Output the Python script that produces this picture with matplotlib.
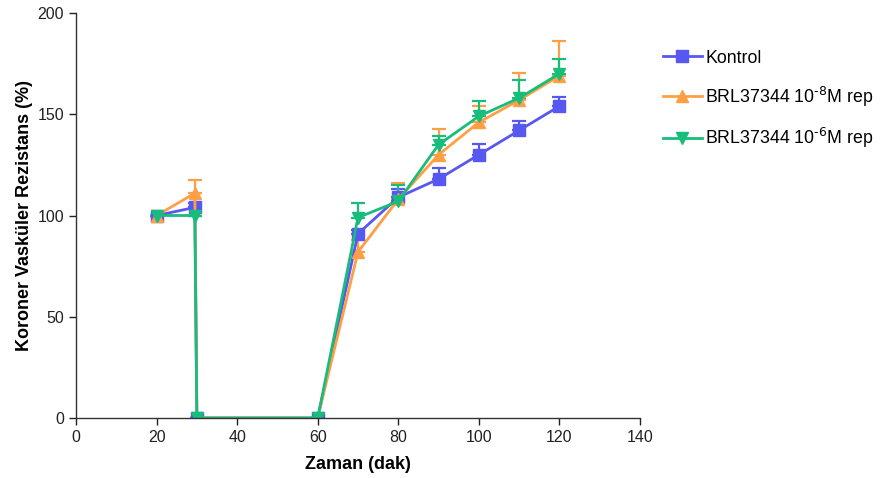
import matplotlib
matplotlib.use("Agg")
import matplotlib.pyplot as plt
import numpy as np

plt.rcParams['font.family'] = ['Liberation Sans', 'DejaVu Sans']

# time points (min)
zaman = [20, 29.5, 30, 60, 70, 80, 90, 100, 110, 120]

kontrol = [100, 104, 0, 0, 91, 109, 118, 130, 142, 154]
kontrol_sem = [0, 2, 0, 0, 2, 4, 5.5, 5.5, 4.5, 4.6]

brl_8 = [100, 111, 0, 0, 82, 108, 130, 146, 157, 169]
brl_8_sem = [0, 6.5, 0, 0, 5.7, 8, 12.7, 8, 13.5, 17]

brl_6 = [100, 100, 0, 0, 99, 107, 135, 149, 158, 170]
brl_6_sem = [0, 0, 0, 0, 7.4, 8, 4.5, 7.4, 9, 7.4]

labels = ["Kontrol", r"BRL37344 10$^{\text{-8}}$M rep", r"BRL37344 10$^{\text{-6}}$M rep"]
colors = ["#5757F2", "#FF9F45", "#17BD7A"]
markers = ["s", "^", "v"]

fig = plt.figure(figsize=(8.81, 4.78), dpi=100)
ax = fig.add_axes([0.0863, 0.1255, 0.6401, 0.8473])

series = [(kontrol, kontrol_sem), (brl_8, brl_8_sem), (brl_6, brl_6_sem)]
for (vals, sem), lab, col, mk in zip(series, labels, colors, markers):
    vals = np.array(vals, dtype=float)
    sem = np.array(sem, dtype=float)
    ax.errorbar(zaman, vals, yerr=[np.zeros_like(sem), sem], color=col,
                marker=mk, markersize=8.5, linewidth=2, elinewidth=1.6,
                capsize=5, capthick=1.6, label=lab)

ax.set_xlim(0, 140)
ax.set_ylim(0, 200)
ax.set_xticks(np.arange(0, 141, 20))
ax.set_yticks(np.arange(0, 201, 50))
for s in ["top", "right"]:
    ax.spines[s].set_visible(False)
for s in ["left", "bottom"]:
    ax.spines[s].set_linewidth(1.0)
    ax.spines[s].set_color("#333333")
ax.tick_params(direction="out", length=5, width=1, labelsize=11.5, colors="#222222")

ax.set_xlabel("Zaman (dak)", fontsize=13, fontweight="bold", labelpad=8)
ax.set_ylabel("Koroner Vasküler Rezistans (%)", fontsize=13, fontweight="bold", labelpad=3)

handles, labs = ax.get_legend_handles_labels()
handles = [h[0] for h in handles]
fig.legend(handles, labs, loc="upper left", bbox_to_anchor=(0.744, 0.911),
           frameon=False, fontsize=12.8, labelspacing=1.0, handlelength=2.2,
           handletextpad=0.2, borderaxespad=0)

fig.savefig("out.png", dpi=100)
